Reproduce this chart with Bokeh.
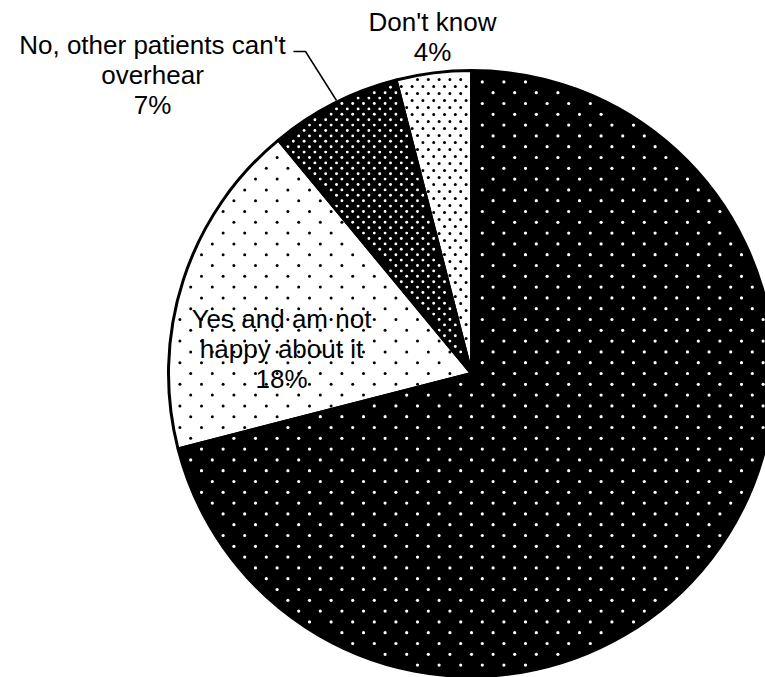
import math
from bokeh.plotting import figure
from bokeh.models import Range1d
from bokeh.embed import file_html
from bokeh.resources import INLINE
from bokeh.core.properties import value

# ---- data ----
categories = ["Yes and don't mind", "Yes and am not happy about it",
              "No, other patients can't overhear", "Don't know"]
percent = [71, 18, 7, 4]
label_lines = [
    [],  # largest slice has no visible label
    ["Yes and am not", "happy about it"],
    ["No, other patients can't", "overhear"],
    ["Don't know"],
]

# ---- styles (fill / dot texture per slice) ----
fills = ["black", "white", "black", "white"]
dot_colors = ["white", "black", "white", "black"]
dot_dx = [21.6, 21.6, 10.8, 10.8]   # spacing of dots within a row
dot_dy = [10.8, 10.8, 5.4, 7.0]     # spacing between (staggered) rows
dot_size = [3.2, 3.0, 2.9, 3.0]

W, H = 765, 677
p = figure(width=W, height=H, output_backend="svg", toolbar_location=None,
           x_range=Range1d(0, W), y_range=Range1d(0, H),
           min_border=0, outline_line_color=None)
p.axis.visible = False
p.grid.visible = False
p.background_fill_color = "white"
p.border_fill_color = "white"

cx, cy, r = 471, 304, 303

total = sum(percent)
bounds = []
start = math.pi / 2
for i, v in enumerate(percent):
    end = start - 2 * math.pi * v / total
    bounds.append((start, end))
    p.wedge(x=[cx], y=[cy], radius=r, start_angle=[start], end_angle=[end],
            direction="clock", fill_color=fills[i], line_color=None)
    start = end


def texture_points(i):
    """Staggered dot lattice clipped to slice i (a fill texture)."""
    a0, a1 = bounds[i]          # clockwise from a0 down to a1
    dx, dy = dot_dx[i], dot_dy[i]
    xs, ys = [], []
    nrows = int(2 * r / dy) + 2
    for row in range(-nrows, nrows + 1):
        y = cy + row * dy
        off = (dx / 2) if row % 2 else 0.0
        ncols = int(2 * r / dx) + 2
        for col in range(-ncols, ncols + 1):
            x = cx + col * dx + off
            ddx, ddy = x - cx, y - cy
            d = math.hypot(ddx, ddy)
            if d > r - 3 or d < 1e-6:
                continue
            ang = math.atan2(ddy, ddx)
            while ang > a0:
                ang -= 2 * math.pi
            while ang < a1:
                ang += 2 * math.pi
            if ang > a0:
                continue
            if d * math.sin(min(a0 - ang, math.pi / 2)) < 2.5:
                continue
            if d * math.sin(min(ang - a1, math.pi / 2)) < 2.5:
                continue
            xs.append(x)
            ys.append(y)
    return xs, ys


for i in range(len(percent)):
    xs, ys = texture_points(i)
    p.scatter(x=xs, y=ys, marker="circle", size=dot_size[i],
              fill_color=dot_colors[i], line_color=None)

# outlines on top
for (a0, a1) in bounds:
    p.wedge(x=[cx], y=[cy], radius=r, start_angle=[a0], end_angle=[a1],
            direction="clock", fill_color=None, line_color="black",
            line_width=3)

# label layout (centre x, first baseline y) in plot pixels
label_pos = [None, (281, 359), (152, 633), (432, 656)]
line_h = 30
font = value("Liberation Sans")
for i, lines in enumerate(label_lines):
    if label_pos[i] is None:
        continue
    x0, y0 = label_pos[i]
    texts = lines + [f"{percent[i]}%"]
    xs = [x0] * len(texts)
    ys = [y0 - k * line_h for k in range(len(texts))]
    p.text(x=xs, y=ys, text=texts, text_font=font, text_font_size="26px",
           text_align="center", text_baseline="alphabetic", text_color="black")

# leader line for the "No" label
p.line(x=[293, 305, 336], y=[626, 626, 577], line_color="black", line_width=1.5)

open("out.html", "w").write(file_html(p, INLINE))
